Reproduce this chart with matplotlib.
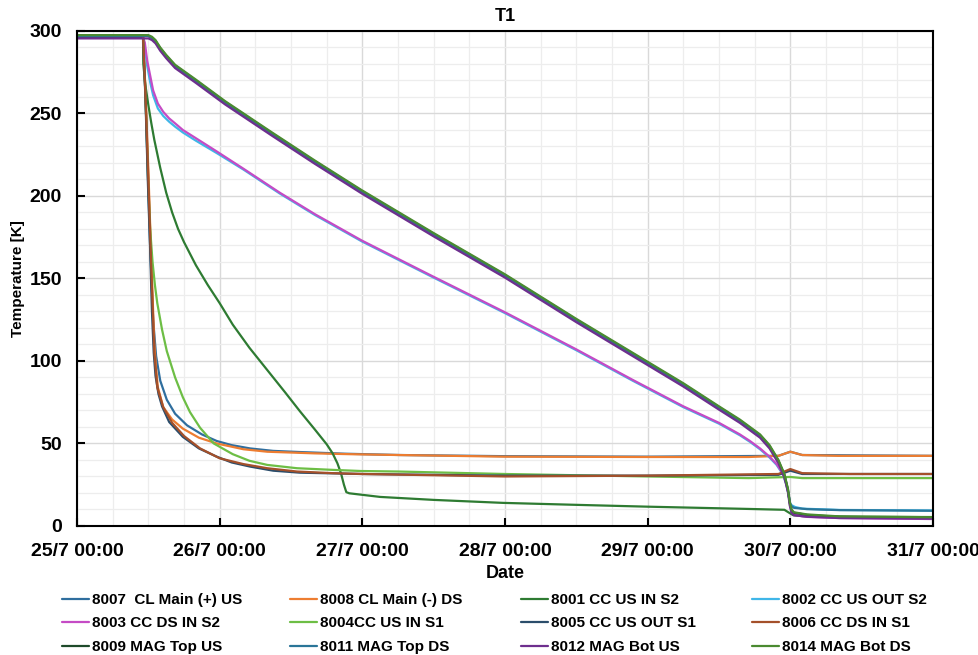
import matplotlib
matplotlib.use("Agg")
import matplotlib.pyplot as plt
import numpy as np

plt.rcParams['font.family'] = ['Liberation Sans', 'DejaVu Sans']
plt.rcParams['font.weight'] = 'bold'

# ---------------- data (hours from 25/7 00:00, temperature in K) ----------------
h_8007 = [0, 11.1, 11.5, 11.9, 12.3, 12.8, 13.3, 14.0, 15.1, 16.5, 18.5, 21, 23.5, 26, 29.1, 33, 37.5, 45, 54.3, 72, 96, 118, 120, 122, 144]
T_8007 = [296, 296, 262, 215, 170, 125, 103, 88, 76.5, 68, 61, 55.5, 51.5, 49, 47, 45.5, 44.8, 43.8, 43, 42.3, 42, 42.5, 45, 43, 42.5]

h_8008 = [0, 11.1, 11.5, 12.0, 12.5, 13.0, 13.3, 13.6, 14.5, 16.0, 17.8, 20.5, 23.5, 28, 32, 40, 46, 54, 72, 96, 113, 118, 120, 122, 128, 144]
T_8008 = [297, 297, 265, 215, 160, 110, 95, 84, 72, 64.5, 59, 53.5, 50, 46.5, 45, 44, 43.5, 43, 42, 41.8, 41.8, 42.5, 45, 43, 42.5, 42.5]

h_8001 = [0, 11.1, 11.15, 11.5, 12, 12.5, 13, 14, 15, 16, 17, 18, 20, 22, 24, 26.2, 29, 32, 35, 37.5, 40, 42, 43, 43.8, 44.4, 44.9, 45.3, 45.8, 51, 60, 71.6, 84, 95.9, 113.2, 119, 119.8, 120.5, 122, 130, 144]
T_8001 = [296, 296, 280, 267, 255, 244, 234, 217, 202, 190, 180, 172, 158, 146, 135, 122, 108, 94.5, 81, 69.5, 58.5, 49.5, 44, 38, 32, 25, 20.5, 19.8, 17.6, 15.8, 14, 12.8, 11.7, 10.3, 9.8, 8, 6.5, 6, 5.6, 5.4]

h_8002 = [0, 11.1, 11.4, 11.8, 12.3, 12.8, 13.6, 14.5, 15.5, 16.5, 17.8, 20, 23.5, 28, 34.1, 40, 47.9, 60, 72, 84, 93.5, 102, 108, 111.5, 113.2, 114.9, 116.5, 117.7, 118.7, 119.3, 119.7, 120.0, 120.8, 122, 128.3, 144]
T_8002 = [296, 296, 290, 279, 269, 261, 253, 248.5, 245, 242, 238.5, 233.5, 226, 216, 201.5, 188.5, 172.5, 150.5, 129, 106.5, 88, 72, 62, 55, 51, 46.5, 41.5, 37, 31.5, 25.5, 19, 13, 11.5, 10.5, 9.7, 9.4]

h_8003 = [0, 11.1, 11.4, 11.8, 12.3, 12.8, 13.6, 14.5, 15.5, 16.5, 17.8, 20, 23.5, 28, 34.1, 40, 47.9, 60, 72, 84, 93.5, 102, 108, 111.5, 113.2, 114.9, 116.5, 117.7, 118.7, 119.3, 119.7, 120.0, 120.4, 121, 122.8, 128.3, 144]
T_8003 = [296, 296, 293, 282, 273, 264, 256, 251, 247, 244, 240, 235, 227, 216.5, 202, 189, 173, 151, 129.5, 107, 88.5, 72.5, 62.5, 55.5, 51.5, 47, 42, 37.5, 32, 26, 19, 11.5, 8, 6.5, 5.5, 4.8, 4.2]

h_8004 = [0, 11.1, 11.5, 12.0, 12.3, 12.7, 13.1, 13.5, 14.3, 15.1, 16.5, 17.8, 19, 20.7, 23, 26.2, 29, 32, 37, 43, 47.8, 54, 72, 96, 113, 120, 122, 144]
T_8004 = [296, 296, 262, 205, 180, 160, 146, 135, 119, 106, 90, 78, 69, 59.5, 50, 43.5, 39.5, 37, 35, 34, 33.3, 33, 31.5, 30, 29, 29.7, 29, 29]

h_8005 = [0, 11.1, 11.5, 11.9, 12.3, 12.6, 12.9, 13.2, 13.7, 14.3, 15.5, 17.8, 20.5, 23.5, 26, 29.1, 33, 37.5, 47.8, 72, 96, 118, 120, 122, 130, 144]
T_8005 = [296, 296, 260, 210, 167, 130, 105, 91, 80, 72.5, 63, 54, 47, 42, 38.5, 36, 33.5, 32.3, 31.5, 30.5, 30.5, 31, 33.5, 31.5, 31.5, 31.5]

h_8006 = [0, 11.1, 11.5, 12.0, 12.5, 13.0, 13.5, 14.5, 16, 18, 20.7, 24, 28, 32, 37, 43, 48, 72, 96, 118, 120, 122, 130, 144]
T_8006 = [297, 297, 262, 210, 155, 105, 84, 72, 62.5, 54.5, 47, 41, 37.5, 35, 33, 32, 31.5, 30, 30.5, 31.5, 34.5, 32, 31.5, 31.5]

h_8009 = [0, 12.0, 12.6, 13.2, 14.0, 15.0, 16.5, 20, 24.9, 32.8, 40, 47.9, 60, 72, 84, 96, 102, 108, 111.5, 114.9, 116.5, 118, 119, 119.6, 119.9, 120.2, 120.6, 122.8, 128.3, 144]
T_8009 = [297, 297, 296, 294, 289.5, 285, 279, 270, 257, 238, 221, 203, 177, 152, 125, 99, 86, 72, 64, 55, 48.5, 39.5, 31, 22, 14, 9.5, 8, 6.7, 5.5, 5.0]

h_8011 = [0, 12.0, 12.6, 13.2, 14.0, 15.0, 16.5, 20, 24.9, 32.8, 40, 47.9, 60, 72, 84, 96, 102, 108, 111.5, 114.9, 116.5, 118, 119, 119.6, 119.9, 120.2, 120.6, 122.8, 128.3, 144]
T_8011 = [297, 297, 295.5, 293.5, 289, 284.5, 278.5, 269.5, 256.5, 237.5, 220.5, 202.5, 176.5, 151.5, 124.5, 98.5, 85.5, 71.5, 63.5, 54.5, 48, 39, 30.5, 21.5, 14.5, 12, 11, 10.2, 9.6, 9.2]

h_8012 = [0, 12.0, 12.6, 13.2, 14.0, 15.0, 16.5, 20, 24.9, 32.8, 40, 47.9, 60, 72, 84, 96, 102, 108, 111.5, 114.9, 116.5, 118, 119, 119.6, 119.9, 120.2, 120.6, 122.8, 128.3, 144]
T_8012 = [295.5, 295.5, 294.5, 292.5, 288, 283.5, 277.5, 268.5, 255.5, 236.5, 219.5, 201.5, 175.5, 150.5, 123.5, 97.5, 84.5, 70.5, 62.5, 53.5, 47, 38, 29.5, 20.5, 12.5, 8, 6.5, 5.6, 4.8, 4.4]

h_8014 = [0, 12.0, 12.6, 13.2, 14.0, 15.0, 16.5, 20, 24.9, 32.8, 40, 47.9, 60, 72, 84, 96, 102, 108, 111.5, 114.9, 116.5, 118, 119, 119.6, 119.9, 120.2, 120.6, 122.8, 128.3, 144]
T_8014 = [297.5, 297.5, 296.5, 294.5, 290, 285.5, 279.5, 270.5, 257.5, 238.5, 221.5, 203.5, 177.5, 152.5, 125.5, 99.5, 86.5, 72.5, 64.5, 55.5, 49, 40, 31.5, 22.5, 14.5, 10, 8.3, 7, 5.8, 5.3]

labels = ["8007  CL Main (+) US", "8008 CL Main (-) DS", "8001 CC US IN S2", "8002 CC US OUT S2",
          "8003 CC DS IN S2", "8004CC US IN S1", "8005 CC US OUT S1", "8006 CC DS IN S1",
          "8009 MAG Top US", "8011 MAG Top DS", "8012 MAG Bot US", "8014 MAG Bot DS"]
series_h = [h_8007, h_8008, h_8001, h_8002, h_8003, h_8004, h_8005, h_8006, h_8009, h_8011, h_8012, h_8014]
series_T = [T_8007, T_8008, T_8001, T_8002, T_8003, T_8004, T_8005, T_8006, T_8009, T_8011, T_8012, T_8014]
colors = ['#2F6E9E', '#ED7D31', '#2E7B32', '#3FB6E8', '#C54BC5', '#6DBE45',
          '#2B4D6B', '#A4502A', '#1E4A2A', '#2A7598', '#6E2F8E', '#4A8A30']

x_tick_labels = ["25/7 00:00", "26/7 00:00", "27/7 00:00", "28/7 00:00", "29/7 00:00", "30/7 00:00", "31/7 00:00"]
y_ticks = [0, 50, 100, 150, 200, 250, 300]

# ---------------- figure ----------------
fig = plt.figure(figsize=(9.79, 6.55), dpi=100)
ax = fig.add_axes([0.0787, 0.197, 0.8743, 0.7557])

handles = []
for hh, TT, c, lab in zip(series_h, series_T, colors, labels):
    ln, = ax.plot(np.array(hh) / 24.0, TT, color=c, lw=1.6, label=lab,
                  solid_joinstyle='round', solid_capstyle='round')
    handles.append(ln)

ax.set_xlim(0, 6)
ax.set_ylim(0, 300)
ax.set_xticks(range(7))
ax.set_xticklabels(x_tick_labels, fontsize=14, fontweight='bold')
ax.set_xticks(np.arange(0, 6.01, 0.25), minor=True)
ax.set_yticks(y_ticks)
ax.set_yticklabels([str(v) for v in y_ticks], fontsize=14, fontweight='bold')
ax.set_yticks(np.arange(0, 301, 10), minor=True)

ax.grid(which='major', color='#D9D9D9', lw=1.0)
ax.grid(which='minor', color='#EDEDED', lw=0.9)
ax.set_axisbelow(True)
ax.tick_params(which='major', direction='in', length=6, width=1.5, top=False, right=False)
ax.tick_params(axis='x', which='major', pad=12)
ax.tick_params(axis='y', which='major', pad=11)
ax.tick_params(which='minor', length=0)
for s in ax.spines.values():
    s.set_linewidth(1.5)
    s.set_color('black')

ax.set_title("T1", fontsize=13, fontweight='bold', pad=7)
ax.set_xlabel("Date", fontsize=13, fontweight='bold', labelpad=4)
ax.set_ylabel("Temperature [K]", fontsize=11, fontweight='bold', labelpad=3)

# legend: 4 columns x 3 rows, row-major order
col_x = [62, 290, 521, 752]
for c in range(4):
    hs = [handles[c], handles[c + 4], handles[c + 8]]
    fig.legend(hs, [h.get_label() for h in hs], loc='upper left',
               bbox_to_anchor=(col_x[c] / 979.0, 1 - 593 / 655.0),
               frameon=False, handlelength=1.75, handletextpad=0.2,
               labelspacing=0.62, borderpad=0, borderaxespad=0,
               prop={'weight': 'bold', 'size': 11})

fig.savefig("out.png", dpi=100)
